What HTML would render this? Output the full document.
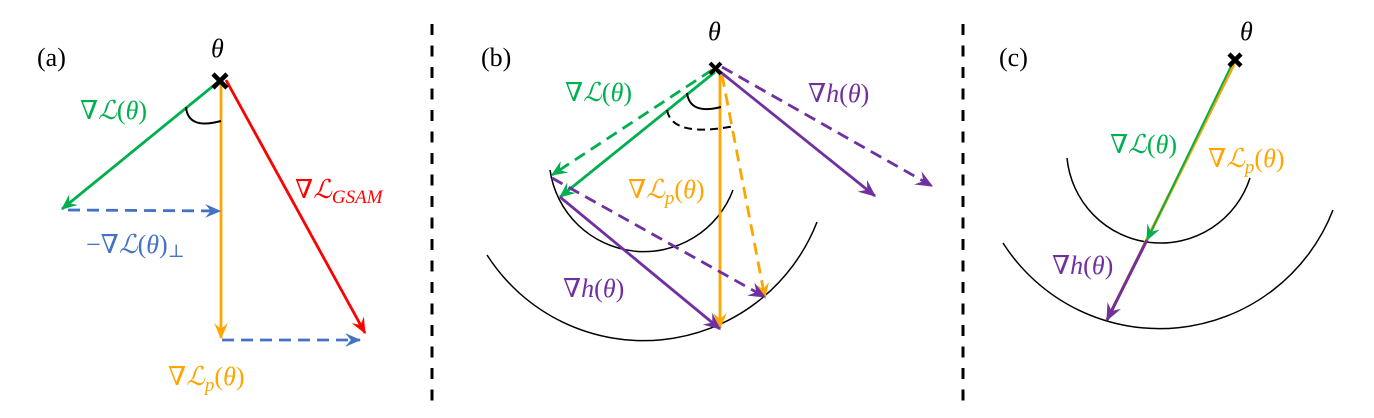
<!DOCTYPE html>
<html><head><meta charset="utf-8"><style>
html,body{margin:0;padding:0;background:#fff;width:1374px;height:418px;overflow:hidden}
svg{display:block}
text{font-family:"Liberation Serif","DejaVu Serif",serif;font-style:italic;font-size:26px}
.up{font-style:normal}
</style></head><body>
<svg width="1374" height="418" viewBox="0 0 1374 418" xmlns="http://www.w3.org/2000/svg">
<defs>
<marker id="mg" viewBox="0 0 14 12" refX="13" refY="6" markerWidth="16" markerHeight="14" markerUnits="userSpaceOnUse" orient="auto"><path d="M0,0 L14,6 L0,12 L5,6z" fill="#00B050"/></marker>
<marker id="mo" viewBox="0 0 14 12" refX="13" refY="6" markerWidth="16" markerHeight="14" markerUnits="userSpaceOnUse" orient="auto"><path d="M0,0 L14,6 L0,12 L5,6z" fill="#FFA500"/></marker>
<marker id="mr" viewBox="0 0 14 12" refX="13" refY="6" markerWidth="16" markerHeight="14" markerUnits="userSpaceOnUse" orient="auto"><path d="M0,0 L14,6 L0,12 L5,6z" fill="#FF0000"/></marker>
<marker id="mb" viewBox="0 0 14 12" refX="13" refY="6" markerWidth="16" markerHeight="14" markerUnits="userSpaceOnUse" orient="auto"><path d="M0,0 L14,6 L0,12 L5,6z" fill="#4472C4"/></marker>
<marker id="mp" viewBox="0 0 14 12" refX="13" refY="6" markerWidth="18" markerHeight="15" markerUnits="userSpaceOnUse" orient="auto"><path d="M0,0 L14,6 L0,12 L5,6z" fill="#7030A0"/></marker>
</defs>

<line x1="432" y1="24" x2="432" y2="406" stroke="#000" stroke-width="3" stroke-dasharray="11,10.5"/>
<line x1="963" y1="24" x2="963" y2="406" stroke="#000" stroke-width="3" stroke-dasharray="11,10.5"/>

<!-- panel a -->
<text x="37" y="66" class="up" font-size="27">(a)</text>
<text x="211" y="57" font-size="27">θ</text>
<line x1="218" y1="82" x2="62" y2="209" stroke="#00B050" stroke-width="2.8" marker-end="url(#mg)"/>
<line x1="221" y1="85" x2="221" y2="338" stroke="#FFA500" stroke-width="2.8" marker-end="url(#mo)"/>
<line x1="226" y1="80" x2="365" y2="333" stroke="#FF0000" stroke-width="2.8" marker-end="url(#mr)"/>
<line x1="68" y1="210" x2="220" y2="211" stroke="#4472C4" stroke-width="2.8" stroke-dasharray="12,7" marker-end="url(#mb)"/>
<line x1="222" y1="340" x2="360" y2="340" stroke="#4472C4" stroke-width="2.8" stroke-dasharray="12,7" marker-end="url(#mb)"/>
<path d="M186,107 Q188,130 221,121" fill="none" stroke="#000" stroke-width="2"/>
<path d="M213,74 L227,88 M227,74 L213,88" stroke="#000" stroke-width="4.5"/>
<text x="80" y="119" fill="#00B050"><tspan class="up">∇</tspan>ℒ<tspan class="up">(</tspan>θ<tspan class="up">)</tspan></text>
<text x="295" y="198" fill="#FF0000"><tspan class="up">∇</tspan>ℒ<tspan font-size="19" dy="5">GSAM</tspan></text>
<text x="86" y="253" fill="#4472C4"><tspan class="up">−∇</tspan>ℒ<tspan class="up">(</tspan>θ<tspan class="up">)</tspan><tspan class="up" font-size="18" dy="4">⊥</tspan></text>
<text x="168" y="385" fill="#FFA500"><tspan class="up">∇</tspan>ℒ<tspan font-size="19" dy="6">p</tspan><tspan class="up" dy="-6">(</tspan>θ<tspan class="up">)</tspan></text>

<!-- panel b -->
<text x="481" y="66" class="up" font-size="27">(b)</text>
<text x="708" y="40" font-size="27">θ</text>
<path d="M550,170 A95 95 0 0 0 733,190" fill="none" stroke="#000" stroke-width="1.5"/>
<path d="M487,255 A186 186 0 0 0 817,222" fill="none" stroke="#000" stroke-width="1.5"/>
<line x1="712" y1="70" x2="552" y2="175" stroke="#00B050" stroke-width="2.8" stroke-dasharray="12,7" marker-end="url(#mg)"/>
<line x1="715" y1="72" x2="560" y2="197" stroke="#00B050" stroke-width="2.8" marker-end="url(#mg)"/>
<line x1="720" y1="75" x2="720" y2="328" stroke="#FFA500" stroke-width="2.8" marker-end="url(#mo)"/>
<line x1="722" y1="75" x2="765" y2="298" stroke="#FFA500" stroke-width="2.8" stroke-dasharray="12,7" marker-end="url(#mo)"/>
<line x1="718" y1="70" x2="875" y2="196" stroke="#7030A0" stroke-width="2.8" marker-end="url(#mp)"/>
<line x1="722" y1="67" x2="932" y2="186" stroke="#7030A0" stroke-width="2.8" stroke-dasharray="12,7" marker-end="url(#mp)"/>
<line x1="560" y1="197" x2="720" y2="329" stroke="#7030A0" stroke-width="2.8" marker-end="url(#mp)"/>
<line x1="552" y1="178" x2="765" y2="297" stroke="#7030A0" stroke-width="2.8" stroke-dasharray="12,7" marker-end="url(#mp)"/>
<path d="M687,93 Q690,115 721,107" fill="none" stroke="#000" stroke-width="2"/>
<path d="M667,110 Q672,138 735,126" fill="none" stroke="#000" stroke-width="2" stroke-dasharray="8,5"/>
<path d="M710,63 L721,74 M721,63 L710,74" stroke="#000" stroke-width="4"/>
<text x="565" y="101" fill="#00B050"><tspan class="up">∇</tspan>ℒ<tspan class="up">(</tspan>θ<tspan class="up">)</tspan></text>
<text x="808" y="102" fill="#7030A0"><tspan class="up">∇</tspan>h<tspan class="up">(</tspan>θ<tspan class="up">)</tspan></text>
<text x="628" y="198" fill="#FFA500"><tspan class="up">∇</tspan>ℒ<tspan font-size="19" dy="6">p</tspan><tspan class="up" dy="-6">(</tspan>θ<tspan class="up">)</tspan></text>
<text x="563" y="297" fill="#7030A0"><tspan class="up">∇</tspan>h<tspan class="up">(</tspan>θ<tspan class="up">)</tspan></text>

<!-- panel c -->
<text x="999" y="66" class="up" font-size="27">(c)</text>
<text x="1240" y="40" font-size="27">θ</text>
<path d="M1067,158 A94 94 0 0 0 1250,178" fill="none" stroke="#000" stroke-width="1.5"/>
<path d="M1003,243 A186 186 0 0 0 1333,210" fill="none" stroke="#000" stroke-width="1.5"/>
<line x1="1234" y1="64" x2="1107" y2="320" stroke="#FFA500" stroke-width="3.2" marker-end="url(#mo)"/>
<line x1="1232" y1="64" x2="1147" y2="240" stroke="#00B050" stroke-width="2" marker-end="url(#mg)"/>
<line x1="1147" y1="240" x2="1107" y2="320" stroke="#7030A0" stroke-width="3" marker-end="url(#mp)"/>
<path d="M1229,54 L1241,66 M1241,54 L1229,66" stroke="#000" stroke-width="4.5"/>
<text x="1110" y="153" fill="#00B050"><tspan class="up">∇</tspan>ℒ<tspan class="up">(</tspan>θ<tspan class="up">)</tspan></text>
<text x="1208" y="167" fill="#FFA500"><tspan class="up">∇</tspan>ℒ<tspan font-size="19" dy="6">p</tspan><tspan class="up" dy="-6">(</tspan>θ<tspan class="up">)</tspan></text>
<text x="1052" y="274" fill="#7030A0"><tspan class="up">∇</tspan>h<tspan class="up">(</tspan>θ<tspan class="up">)</tspan></text>
</svg>
</body></html>
